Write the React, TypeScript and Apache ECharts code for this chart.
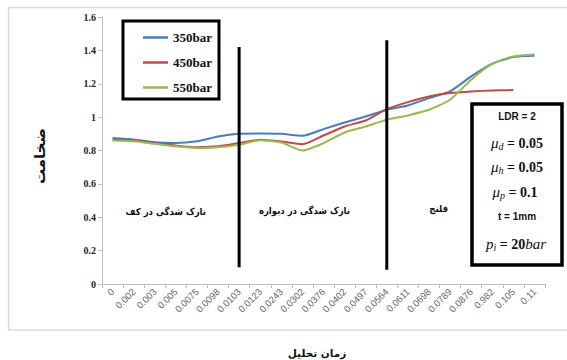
import React, { useEffect, useRef } from "react";
import * as echarts from "echarts";

const categories = [
  "0", "0.002", "0.003", "0.005", "0.0075", "0.0098", "0.0103", "0.0123",
  "0.0243", "0.0302", "0.0376", "0.0402", "0.0497", "0.0564", "0.0611",
  "0.0698", "0.0789", "0.0876", "0.982", "0.105", "0.11",
];

const s350 = [
  0.875, 0.866, 0.85, 0.845, 0.855, 0.884, 0.9, 0.902, 0.9, 0.888, 0.928,
  0.968, 1.004, 1.044, 1.07, 1.114, 1.154, 1.244, 1.32, 1.36, 1.368,
];
const s450 = [
  0.865, 0.86, 0.844, 0.83, 0.82, 0.825, 0.845, 0.864, 0.854, 0.838, 0.89,
  0.944, 0.98, 1.048, 1.09, 1.124, 1.144, 1.154, 1.16, 1.162,
];
const s550 = [
  0.86, 0.855, 0.84, 0.825, 0.815, 0.82, 0.835, 0.862, 0.848, 0.8, 0.844,
  0.908, 0.944, 0.984, 1.01, 1.044, 1.104, 1.224, 1.32, 1.364, 1.376,
];

const seriesNames = ["350bar", "450bar", "550bar"];
const seriesColors = ["#4a7ebb", "#be4b48", "#98b954"];

// vertical divider lines: category and [bottom, top] values
const dividerCats = ["0.0103", "0.0564"];
const dividerRanges = [
  [0.1, 1.42],
  [0.085, 1.46],
];

const regionLabels = ["نازک شدگی در کف", "نازک شدگی در دیواره", "فلنج"];
const yTitle = "ضخامت";
const xTitle = "زمان تحلیل";

export default function App() {
  const ref = useRef<HTMLDivElement>(null);

  useEffect(() => {
    if (!ref.current) return;
    const chart = echarts.init(ref.current, null, { renderer: "svg" });

    const dataSeries = [s350, s450, s550].map((d, i) => ({
      name: seriesNames[i],
      type: "line",
      data: d,
      symbol: "none",
      smooth: 0.2,
      lineStyle: { color: seriesColors[i], width: 2 },
      itemStyle: { color: seriesColors[i] },
      z: 3,
    }));

    const dividerSeries = dividerCats.map((c, i) => ({
      name: "divider" + i,
      type: "line",
      data: [
        [c, dividerRanges[i][0]],
        [c, dividerRanges[i][1]],
      ],
      symbol: "none",
      lineStyle: { color: "#000", width: 3 },
      z: 4,
      silent: true,
    }));

    const serif = "Liberation Serif";
    const arabic = "'DejaVu Sans Condensed', 'DejaVu Sans'";
    const richParams = {
      mu: { fontFamily: serif, fontStyle: "italic", fontSize: 15, color: "#111" },
      sub: { fontFamily: serif, fontStyle: "italic", fontSize: 10, verticalAlign: "bottom", padding: [6, 0, 0, 0], color: "#111" },
      eq: { fontFamily: serif, fontWeight: "bold", fontSize: 14, color: "#111" },
    };

    const legendTops = [26, 51, 76];
    const legends = seriesNames.map((n, i) => ({
      data: [n],
      orient: "vertical",
      left: 138,
      top: legendTops[i],
      itemWidth: 25,
      itemHeight: 2.5,
      icon: "rect",
      textStyle: { fontFamily: serif, fontWeight: "bold", fontSize: 13, color: "#111" },
    }));

    chart.setOption({
      animation: false,
      grid: { left: 102, right: 22, top: 17, bottom: 76 },
      legend: legends,
      xAxis: {
        type: "category",
        data: categories,
        boundaryGap: true,
        axisLine: { lineStyle: { color: "#bfbfbf", width: 1 } },
        axisTick: { show: true, length: 4, lineStyle: { color: "#bfbfbf" } },
        axisLabel: {
          interval: 0,
          rotate: 45,
          fontFamily: "Liberation Sans",
          fontSize: 9.5,
          color: "#666",
          margin: 6,
        },
        splitLine: { show: false },
      },
      yAxis: {
        type: "value",
        min: 0,
        max: 1.6,
        interval: 0.2,
        axisLine: { show: true, lineStyle: { color: "#bfbfbf", width: 1 } },
        axisTick: { show: true, length: 4, lineStyle: { color: "#bfbfbf" } },
        axisLabel: {
          fontFamily: serif,
          fontWeight: "bold",
          fontSize: 10,
          color: "#262626",
          margin: 6,
        },
        splitLine: { show: false },
      },
      graphic: [
        {
          type: "rect",
          shape: { x: 8.5, y: 7.5, width: 560, height: 322.5 },
          style: { fill: "none", stroke: "#d9d9d9", lineWidth: 1.5 },
          silent: true,
          z: 0,
        },
        {
          type: "rect",
          shape: { x: 123, y: 21, width: 96, height: 78 },
          style: { fill: "none", stroke: "#000", lineWidth: 3 },
          z: 10,
        },
        {
          type: "rect",
          shape: { x: 472, y: 104, width: 90, height: 161 },
          style: { fill: "#fff", stroke: "#000", lineWidth: 3.5 },
          z: 10,
        },
        {
          type: "text",
          x: 517, y: 116, z: 11,
          style: { text: "LDR = 2", align: "center", verticalAlign: "middle", fontFamily: "Liberation Sans", fontWeight: "bold", fontSize: 10, fill: "#111" },
        },
        {
          type: "text",
          x: 517, y: 143, z: 11,
          style: { text: "{mu|μ}{sub|d}{eq| = 0.05}", align: "center", verticalAlign: "middle", rich: richParams, fill: "#111" },
        },
        {
          type: "text",
          x: 517, y: 167, z: 11,
          style: { text: "{mu|μ}{sub|h}{eq| = 0.05}", align: "center", verticalAlign: "middle", rich: richParams, fill: "#111" },
        },
        {
          type: "text",
          x: 515, y: 192, z: 11,
          style: { text: "{mu|μ}{sub|p}{eq| = 0.1}", align: "center", verticalAlign: "middle", rich: richParams, fill: "#111" },
        },
        {
          type: "text",
          x: 517, y: 216, z: 11,
          style: { text: "t = 1mm", align: "center", verticalAlign: "middle", fontFamily: "Liberation Sans", fontWeight: "bold", fontSize: 10, fill: "#111" },
        },
        {
          type: "text",
          x: 516, y: 244, z: 11,
          style: { text: "{mu|p}{sub|i}{eq| = 20}{mu|bar}", align: "center", verticalAlign: "middle", rich: richParams, fill: "#111" },
        },
        {
          type: "text",
          x: 206, y: 211, z: 11,
          style: { text: regionLabels[0], align: "right", verticalAlign: "middle", fontFamily: arabic, fontWeight: "bold", fontSize: 9.5, fill: "#111" },
        },
        {
          type: "text",
          x: 350, y: 210, z: 11,
          style: { text: regionLabels[1], align: "right", verticalAlign: "middle", fontFamily: arabic, fontWeight: "bold", fontSize: 9.5, fill: "#111" },
        },
        {
          type: "text",
          x: 448, y: 208, z: 11,
          style: { text: regionLabels[2], align: "right", verticalAlign: "middle", fontFamily: arabic, fontWeight: "bold", fontSize: 9.5, fill: "#111" },
        },
        {
          type: "text",
          x: 40, y: 156, rotation: Math.PI / 2, z: 11,
          style: { text: yTitle, align: "center", verticalAlign: "middle", fontFamily: "DejaVu Sans", fontWeight: "bold", fontSize: 15, fill: "#111" },
        },
        {
          type: "text",
          x: 317, y: 353, z: 11,
          style: { text: xTitle, align: "center", verticalAlign: "middle", fontFamily: "DejaVu Sans", fontWeight: "bold", fontSize: 10.5, fill: "#111" },
        },
      ],
      series: [...dataSeries, ...dividerSeries],
    });

    return () => chart.dispose();
  }, []);

  return (
    <div
      ref={ref}
      style={{ position: "fixed", left: 0, top: 0, width: 567, height: 360, background: "#fff" }}
    />
  );
}
